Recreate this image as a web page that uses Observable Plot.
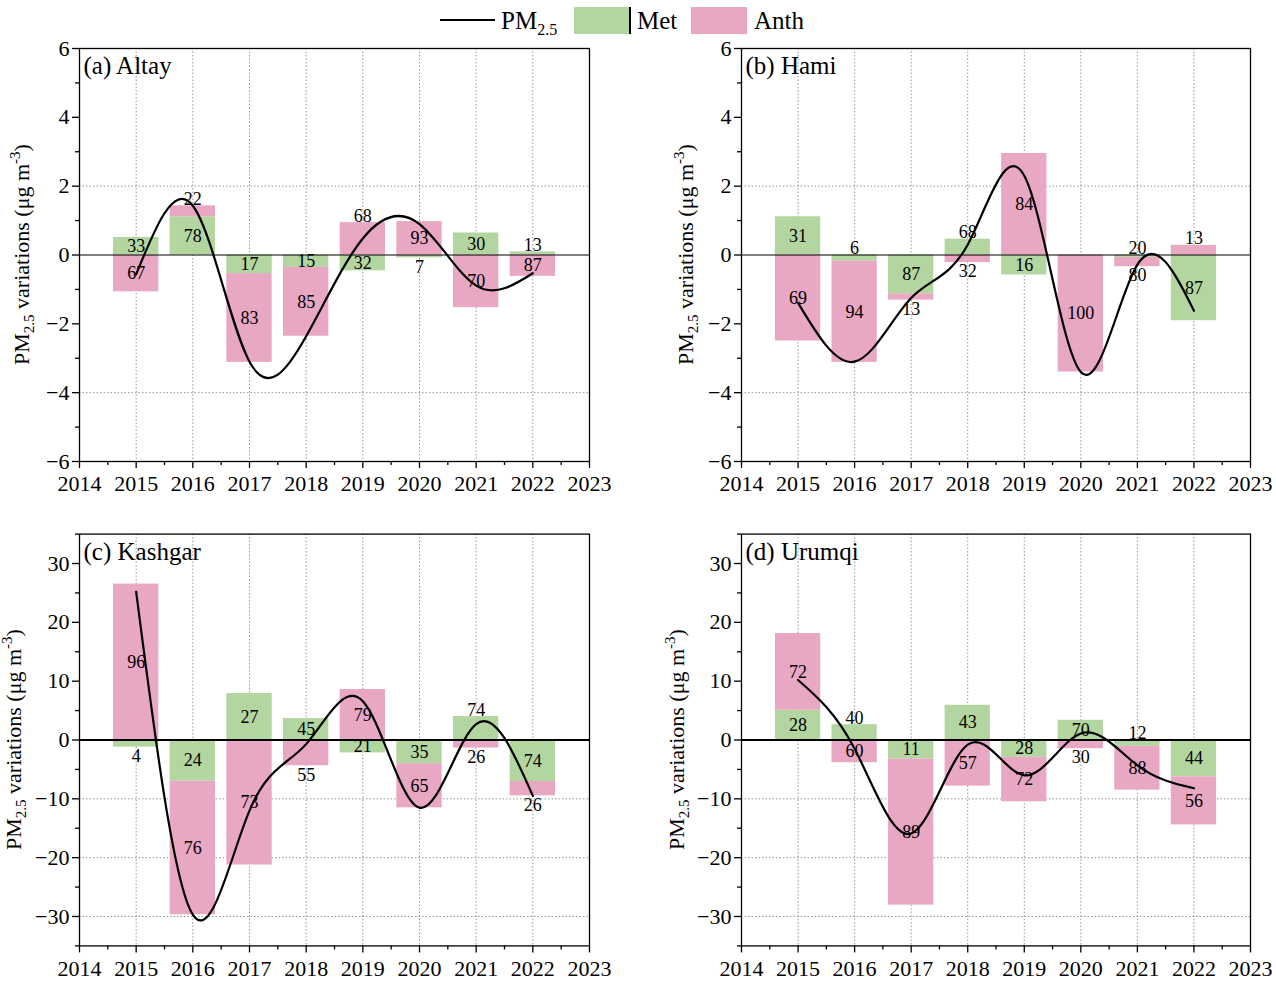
<!DOCTYPE html>
<html><head><meta charset="utf-8">
<script src="https://cdn.jsdelivr.net/npm/d3@7"></script>
<script src="https://cdn.jsdelivr.net/npm/@observablehq/plot@0.6"></script>
<style>
body{margin:0;background:#fff;font-family:"Liberation Serif","Times New Roman",serif;}
#wrap{position:relative;width:1276px;height:984px;overflow:hidden;background:#fff}
.panel{position:absolute}
.lg{position:absolute;font-size:25px;line-height:1;color:#000}
.lg sub{font-size:16px;vertical-align:-6px;line-height:0}
</style></head><body>
<div id="wrap">
  <div class="lg" style="left:440px;top:19px;width:55px;height:2px;background:#000"></div>
  <div class="lg" style="left:501px;top:8px">PM<sub>2.5</sub></div>
  <div class="lg" style="left:574px;top:7px;width:55px;height:27px;background:#b3d59f;border-right:2px solid #000"></div>
  <div class="lg" style="left:637px;top:8px">Met</div>
  <div class="lg" style="left:691px;top:7px;width:56px;height:27px;background:#e8a7c3"></div>
  <div class="lg" style="left:754px;top:8px">Anth</div>
</div>
<script>
const years = [2015, 2016, 2017, 2018, 2019, 2020, 2021, 2022];

// (a) Altay
const altayMet     = [0.51, 1.11, -0.54, -0.36, -0.46, -0.08, 0.64, 0.09];
const altayAnth    = [-1.07, 0.32, -2.58, -2.00, 0.94, 0.97, -1.53, -0.62];
const altayMetPct  = [33, 78, 17, 15, 32, 7, 30, 13];
const altayAnthPct = [67, 22, 83, 85, 68, 93, 70, 87];
const altayPM      = [-0.56, 1.43, -3.10, -2.36, 0.48, 0.90, -0.89, -0.53];
const altayOutside = ["2016 Anth", "2019 Anth", "2020 Met", "2022 Met"];

// (b) Hami
const hamiMet     = [1.11, -0.18, -1.13, 0.46, -0.58, 0, -0.07, -1.91];
const hamiAnth    = [-2.50, -2.94, -0.18, -0.22, 2.95, -3.40, -0.27, 0.28];
const hamiMetPct  = [31, 6, 87, 68, 16, 0, 20, 87];
const hamiAnthPct = [69, 94, 13, 32, 84, 100, 80, 13];
const hamiPM      = [-1.39, -3.10, -1.25, 0.30, 2.30, -3.40, -0.28, -1.62];
const hamiOutside = ["2016 Met", "2017 Anth", "2018 Met", "2018 Anth", "2021 Met", "2021 Anth", "2022 Anth"];

// (c) Kashgar
const kashgarMet     = [-1.2, -7.0, 7.9, 3.64, -2.2, -4.03, 3.98, -7.05];
const kashgarAnth    = [26.5, -22.7, -21.25, -4.38, 8.58, -7.5, -1.36, -2.44];
const kashgarMetPct  = [4, 24, 27, 45, 21, 35, 74, 74];
const kashgarAnthPct = [96, 76, 73, 55, 79, 65, 26, 26];
const kashgarPM      = [25.2, -29.7, -12.0, -0.7, 6.6, -11.5, 2.7, -9.5];
const kashgarOutside = ["2015 Met", "2018 Anth", "2021 Met", "2021 Anth", "2022 Anth"];

// (d) Urumqi
const urumqiMet     = [5.06, 2.6, -3.24, 5.9, -2.95, 3.35, -1.08, -6.25];
const urumqiAnth    = [13.04, -3.86, -24.83, -7.84, -7.55, -1.48, -7.44, -8.18];
const urumqiMetPct  = [28, 40, 11, 43, 28, 70, 12, 44];
const urumqiAnthPct = [72, 60, 89, 57, 72, 30, 88, 56];
const urumqiPM      = [10.2, -1.5, -15.9, -0.8, -6.0, 1.1, -4.3, -8.2];
const urumqiOutside = ["2016 Met", "2020 Anth", "2021 Met"];

const xTicks = [2014, 2015, 2016, 2017, 2018, 2019, 2020, 2021, 2022, 2023];
const xMinor = [2014.5, 2015.5, 2016.5, 2017.5, 2018.5, 2019.5, 2020.5, 2021.5, 2022.5];

const GREEN = "#b3d59f", PINK = "#e8a7c3";
const FONT = "Liberation Serif, Times New Roman, serif";

function buildRows(met, anth, metPct, anthPct, outside) {
  const rows = [];
  years.forEach((yr, i) => {
    let pos = 0, neg = 0;
    [["Met", met[i], metPct[i]], ["Anth", anth[i], anthPct[i]]].forEach(([comp, v, p]) => {
      let y1, y2;
      if (v >= 0) { y1 = pos; y2 = pos + v; pos = y2; } else { y1 = neg; y2 = neg + v; neg = y2; }
      rows.push({year: yr, comp, value: v, pct: p, y1, y2, out: outside.includes(yr + " " + comp)});
    });
  });
  rows.forEach(r => {
    r.outer = !rows.some(o => o !== r && o.year === r.year && Math.sign(o.value) === Math.sign(r.value) && Math.abs(o.y2) > Math.abs(r.y2));
  });
  return rows;
}

function panel(cfg) {
  const rows = buildRows(cfg.met, cfg.anth, cfg.metPct, cfg.anthPct, cfg.outside);
  const line = years.map((y, i) => ({year: y, v: cfg.pm[i]}));
  const shown = rows.filter(r => r.pct > 0);
  const inside = shown.filter(r => !r.out);
  const outAbove = shown.filter(r => r.out && (r.outer ? r.value > 0 : r.value < 0));
  const outBelow = shown.filter(r => r.out && !(r.outer ? r.value > 0 : r.value < 0));
  const outY = r => r.outer ? r.y2 : 0;

  const svg = Plot.plot({
    width: cfg.width, height: cfg.height,
    marginLeft: cfg.ml, marginRight: cfg.mr, marginTop: cfg.mt, marginBottom: cfg.mb,
    style: {fontFamily: FONT, fontSize: "22px", background: "transparent", overflow: "visible"},
    x: {domain: [2014, 2023]},
    y: {domain: cfg.ydomain},
    color: {domain: ["Met", "Anth"], range: [GREEN, PINK]},
    marks: [
      Plot.ruleX(years, {stroke: "#8a8a8a", strokeWidth: 0.9, strokeDasharray: "1.5,2"}),
      Plot.ruleY(cfg.grid, {stroke: "#8a8a8a", strokeWidth: 0.9, strokeDasharray: "1.5,2"}),
      Plot.rectY(rows, {x1: d => d.year - 0.4, x2: d => d.year + 0.4, y1: "y1", y2: "y2", fill: "comp"}),
      Plot.ruleY([0], {stroke: "black", strokeWidth: cfg.zeroW}),
      Plot.line(line, {x: "year", y: "v", curve: "natural", stroke: "black", strokeWidth: 2.2}),
      Plot.text(inside, {x: "year", y: d => (d.y1 + d.y2) / 2, text: d => String(d.pct), fontSize: 18, fill: "black"}),
      Plot.text(outAbove, {x: "year", y: outY, text: d => String(d.pct), fontSize: 18, fill: "black", lineAnchor: "bottom", dy: -1}),
      Plot.text(outBelow, {x: "year", y: outY, text: d => String(d.pct), fontSize: 18, fill: "black", lineAnchor: "top", dy: 2}),
      Plot.axisX({ticks: xTicks, tickFormat: d => String(d), tickSize: 7, tickPadding: 7, fontSize: 22, label: null, strokeWidth: 1.3}),
      Plot.axisX({ticks: xMinor, tickFormat: () => "", tickSize: 4, label: null, strokeWidth: 1.3}),
      Plot.axisY({ticks: cfg.yTicks, tickSize: 7, tickPadding: 3, fontSize: 22, label: null, strokeWidth: 1.3}),
      Plot.axisY({ticks: cfg.yMinor, tickFormat: () => "", tickSize: 4, label: null, strokeWidth: 1.3}),
      Plot.frame({stroke: "black", strokeWidth: 1.3}),
      Plot.text([cfg.title], {frameAnchor: "top-left", dx: 4, dy: 8, lineAnchor: "top", fontSize: 25, text: d => d, fill: "black"})
    ]
  });

  // y-axis title with sub/superscripts
  const cy = cfg.mt + (cfg.height - cfg.mt - cfg.mb) / 2;
  const t = d3.select(svg).append("text")
    .attr("transform", `translate(${cfg.titleX},${cy}) rotate(-90)`)
    .attr("text-anchor", "middle")
    .style("font-family", FONT).style("font-size", "22px").attr("fill", "black");
  t.append("tspan").text("PM");
  t.append("tspan").attr("dy", 5).style("font-size", "15px").text("2.5");
  t.append("tspan").attr("dy", -5).text(" variations (μg m");
  t.append("tspan").attr("dy", -9).style("font-size", "15px").text("-3");
  t.append("tspan").attr("dy", 9).text(")");

  const div = document.createElement("div");
  div.className = "panel";
  div.style.left = cfg.left + "px";
  div.style.top = cfg.top + "px";
  div.appendChild(svg);
  document.getElementById("wrap").appendChild(div);
}

const smallY = {ydomain: [-6, 6], yTicks: [-6, -4, -2, 0, 2, 4, 6], yMinor: [-5, -3, -1, 1, 3, 5], grid: [2, -4], zeroW: 1.2,
  top: 38, height: 462, mt: 10, mb: 39};
const bigY = {ydomain: [-35, 35], yTicks: [-30, -20, -10, 0, 10, 20, 30], yMinor: [-35, -25, -15, -5, 5, 15, 25, 35], grid: [-10, -20, -30], zeroW: 2.2,
  top: 500, height: 484, mt: 33.6, mb: 38.6};
const leftCol = {left: 0, width: 638, ml: 79, mr: 49};
const rightCol = {left: 638, width: 638, ml: 103, mr: 26};

panel({...smallY, ...leftCol, titleX: 29, title: "(a) Altay",
  met: altayMet, anth: altayAnth, metPct: altayMetPct, anthPct: altayAnthPct, pm: altayPM, outside: altayOutside});
panel({...smallY, ...rightCol, titleX: 55, title: "(b) Hami",
  met: hamiMet, anth: hamiAnth, metPct: hamiMetPct, anthPct: hamiAnthPct, pm: hamiPM, outside: hamiOutside});
panel({...bigY, ...leftCol, titleX: 21, title: "(c) Kashgar",
  met: kashgarMet, anth: kashgarAnth, metPct: kashgarMetPct, anthPct: kashgarAnthPct, pm: kashgarPM, outside: kashgarOutside});
panel({...bigY, ...rightCol, titleX: 46, title: "(d) Urumqi",
  met: urumqiMet, anth: urumqiAnth, metPct: urumqiMetPct, anthPct: urumqiAnthPct, pm: urumqiPM, outside: urumqiOutside});
</script>
</body></html>
